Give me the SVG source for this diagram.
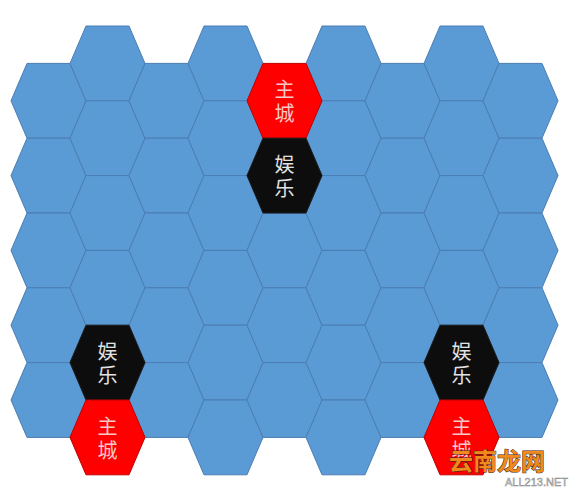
<svg xmlns="http://www.w3.org/2000/svg" xmlns:xlink="http://www.w3.org/1999/xlink" width="584" height="490" viewBox="0 0 584 490">
<style>
.b{fill:#5b9bd5;stroke:#4a7db3;stroke-width:1}
.r{fill:#fe0000;stroke:#c00000;stroke-width:1}
.k{fill:#0d0d0d;stroke:#1a1a1a;stroke-width:1}
.t{font-family:"Noto Sans CJK SC","Noto Sans",sans-serif;font-size:20px;text-anchor:middle;dominant-baseline:central}
.tr{fill:#f8c8c8}
.tk{fill:#e2e2e2}
</style>
<defs>
<polygon id="h" points="-37.5,0 -21.5,-37.4 21.5,-37.4 37.5,0 21.5,37.4 -21.5,37.4"/>
</defs>
<rect width="584" height="490" fill="#ffffff"/>
<g id="grid">
<g id="col1">
<use xlink:href="#h" href="#h" class="b" x="48.5" y="100.8"/>
<use xlink:href="#h" href="#h" class="b" x="48.5" y="175.6"/>
<use xlink:href="#h" href="#h" class="b" x="48.5" y="250.4"/>
<use xlink:href="#h" href="#h" class="b" x="48.5" y="325.2"/>
<use xlink:href="#h" href="#h" class="b" x="48.5" y="400"/>
</g>
<g id="col2">
<use xlink:href="#h" href="#h" class="b" x="107.5" y="63.4"/>
<use xlink:href="#h" href="#h" class="b" x="107.5" y="138.2"/>
<use xlink:href="#h" href="#h" class="b" x="107.5" y="213"/>
<use xlink:href="#h" href="#h" class="b" x="107.5" y="287.8"/>
</g>
<g id="col3">
<use xlink:href="#h" href="#h" class="b" x="166.5" y="100.8"/>
<use xlink:href="#h" href="#h" class="b" x="166.5" y="175.6"/>
<use xlink:href="#h" href="#h" class="b" x="166.5" y="250.4"/>
<use xlink:href="#h" href="#h" class="b" x="166.5" y="325.2"/>
<use xlink:href="#h" href="#h" class="b" x="166.5" y="400"/>
</g>
<g id="col4">
<use xlink:href="#h" href="#h" class="b" x="225.5" y="63.4"/>
<use xlink:href="#h" href="#h" class="b" x="225.5" y="138.2"/>
<use xlink:href="#h" href="#h" class="b" x="225.5" y="213"/>
<use xlink:href="#h" href="#h" class="b" x="225.5" y="287.8"/>
<use xlink:href="#h" href="#h" class="b" x="225.5" y="362.6"/>
<use xlink:href="#h" href="#h" class="b" x="225.5" y="437.4"/>
</g>
<g id="col5">
<use xlink:href="#h" href="#h" class="b" x="284.5" y="250.4"/>
<use xlink:href="#h" href="#h" class="b" x="284.5" y="325.2"/>
<use xlink:href="#h" href="#h" class="b" x="284.5" y="400"/>
</g>
<g id="col6">
<use xlink:href="#h" href="#h" class="b" x="343.5" y="63.4"/>
<use xlink:href="#h" href="#h" class="b" x="343.5" y="138.2"/>
<use xlink:href="#h" href="#h" class="b" x="343.5" y="213"/>
<use xlink:href="#h" href="#h" class="b" x="343.5" y="287.8"/>
<use xlink:href="#h" href="#h" class="b" x="343.5" y="362.6"/>
<use xlink:href="#h" href="#h" class="b" x="343.5" y="437.4"/>
</g>
<g id="col7">
<use xlink:href="#h" href="#h" class="b" x="402.5" y="100.8"/>
<use xlink:href="#h" href="#h" class="b" x="402.5" y="175.6"/>
<use xlink:href="#h" href="#h" class="b" x="402.5" y="250.4"/>
<use xlink:href="#h" href="#h" class="b" x="402.5" y="325.2"/>
<use xlink:href="#h" href="#h" class="b" x="402.5" y="400"/>
</g>
<g id="col8">
<use xlink:href="#h" href="#h" class="b" x="461.5" y="63.4"/>
<use xlink:href="#h" href="#h" class="b" x="461.5" y="138.2"/>
<use xlink:href="#h" href="#h" class="b" x="461.5" y="213"/>
<use xlink:href="#h" href="#h" class="b" x="461.5" y="287.8"/>
</g>
<g id="col9">
<use xlink:href="#h" href="#h" class="b" x="520.5" y="100.8"/>
<use xlink:href="#h" href="#h" class="b" x="520.5" y="175.6"/>
<use xlink:href="#h" href="#h" class="b" x="520.5" y="250.4"/>
<use xlink:href="#h" href="#h" class="b" x="520.5" y="325.2"/>
<use xlink:href="#h" href="#h" class="b" x="520.5" y="400"/>
</g>
</g>
<g id="connectors"/>
<g id="city-top">
<use xlink:href="#h" href="#h" class="r" x="284.5" y="100.8"/>
<text class="t tr" x="284.5" y="88.8">主</text>
<text class="t tr" x="284.5" y="112.8">城</text>
</g>
<g id="fun-top">
<use xlink:href="#h" href="#h" class="k" x="284.5" y="175.6"/>
<text class="t tk" x="284.5" y="163.6">娱</text>
<text class="t tk" x="284.5" y="187.6">乐</text>
</g>
<g id="fun-left">
<use xlink:href="#h" href="#h" class="k" x="107.5" y="362.6"/>
<text class="t tk" x="107.5" y="350.6">娱</text>
<text class="t tk" x="107.5" y="374.6">乐</text>
</g>
<g id="city-left">
<use xlink:href="#h" href="#h" class="r" x="107.5" y="437.4"/>
<text class="t tr" x="107.5" y="425.4">主</text>
<text class="t tr" x="107.5" y="449.4">城</text>
</g>
<g id="fun-right">
<use xlink:href="#h" href="#h" class="k" x="461.5" y="362.6"/>
<text class="t tk" x="461.5" y="350.6">娱</text>
<text class="t tk" x="461.5" y="374.6">乐</text>
</g>
<g id="city-right">
<use xlink:href="#h" href="#h" class="r" x="461.5" y="437.4"/>
<text class="t tr" x="461.5" y="425.4">主</text>
<text class="t tr" x="461.5" y="449.4">城</text>
</g>
<g id="watermark">
<text x="449" y="470" font-family="Noto Sans CJK SC,sans-serif" font-size="24" font-weight="bold" fill="#f08a1c" stroke="#3a2010" stroke-width="1" paint-order="stroke">云南龙网</text>
<text x="505" y="486" font-family="Liberation Sans,sans-serif" font-size="11" fill="#d8d8d8" stroke="#8a8a8a" stroke-width="0.5">ALL213.NET</text>
</g>
</svg>
